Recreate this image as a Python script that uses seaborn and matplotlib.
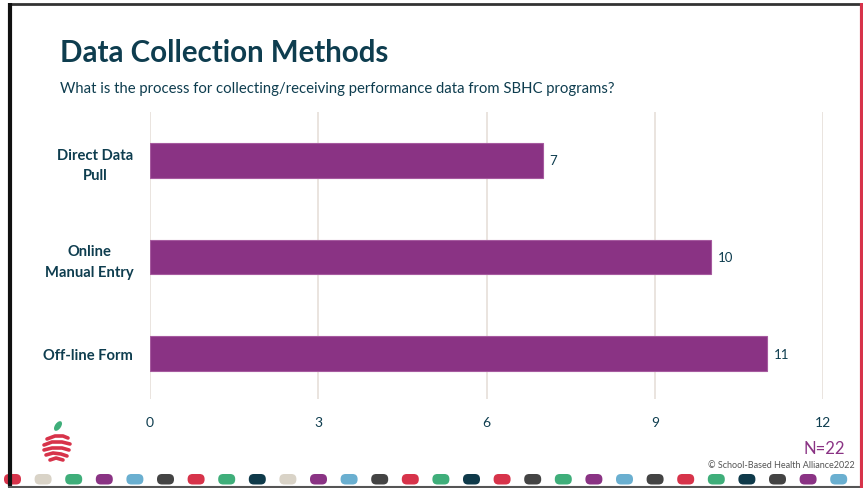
import matplotlib
matplotlib.use("Agg")
import matplotlib.pyplot as plt
import seaborn as sns
import pandas as pd
from matplotlib.patches import FancyBboxPatch, Ellipse

# ---- data ----
methods = ["Direct Data\nPull", "Online\nManual Entry", "Off-line Form"]
counts = [7, 10, 11]
x_ticks = [0, 3, 6, 9, 12]
title = "Data Collection Methods"
subtitle = "What is the process for collecting/receiving performance data from SBHC programs?"
sample_note = "N=22"
credit = "© School-Based Health Alliance2022"

TEAL = "#0e3d4f"
PURPLE = "#8a3384"
GRID = "#e8e2dc"
RED = "#d7334a"
BEIGE = "#d9d3c7"
GREEN = "#3fae7a"
BLUE = "#6aafd0"
GRAY = "#444444"
NAVY = "#0f3a4a"
dot_colors = [RED, BEIGE, GREEN, PURPLE, BLUE, GRAY, RED, GREEN, NAVY, BEIGE,
              PURPLE, BLUE, GRAY, RED, GREEN, NAVY, RED, GRAY, GREEN, PURPLE,
              BLUE, GRAY, RED, GREEN, NAVY, GRAY, PURPLE, BLUE]

sns.set_theme(style="white")
plt.rcParams["font.family"] = ["Lato", "DejaVu Sans"]

W, H = 863, 489
fig = plt.figure(figsize=(W / 100, H / 100), dpi=100)
fig.patch.set_facecolor("white")

# ---- bar chart ----
ax = fig.add_axes([150 / W, 1 - 400 / H, 673 / W, 287 / H])
df = pd.DataFrame({"method": methods, "count": counts})
sns.barplot(data=df, y="method", x="count", color=PURPLE, saturation=1,
            width=0.36, edgecolor="#a65a9f", linewidth=0.8, ax=ax)
ax.set_xlim(0, 12)
ax.set_ylim(2.47, -0.5)
ax.set_xticks(x_ticks)
ax.set_xticklabels([str(v) for v in x_ticks])
ax.set_xlabel("")
ax.set_ylabel("")
ax.xaxis.grid(True, color=GRID, linewidth=1.3)
ax.yaxis.grid(False)
ax.set_axisbelow(True)
for s in ax.spines.values():
    s.set_visible(False)
ax.set_facecolor("none")
ax.tick_params(axis="x", length=0, pad=12, labelsize=10, labelcolor=TEAL)
ax.tick_params(axis="y", length=0, pad=12, labelsize=10.6, labelcolor=TEAL)
for lbl in ax.get_yticklabels():
    lbl.set_fontweight("bold")
    lbl.set_multialignment("center")
    lbl.set_linespacing(1.6)
ax.bar_label(ax.containers[0], labels=[str(v) for v in counts], padding=5,
             color=TEAL, fontsize=9.5)

# ---- headings and notes ----
t_title = fig.text(60 / W, 1 - 53 / H, title, fontsize=22, fontweight="bold",
                   color=TEAL, va="center", ha="left")
t_sub = fig.text(60 / W, 1 - 89 / H, subtitle, fontsize=10, color=TEAL,
                 va="center", ha="left")
fig.text(845 / W, 1 - 449 / H, sample_note, fontsize=12, color=PURPLE,
         va="center", ha="right")
fig.text(855 / W, 1 - 466 / H, credit, fontsize=6.5, color="#555555",
         va="center", ha="right")


def fit_width(t, target):
    fig.canvas.draw()
    w = t.get_window_extent(fig.canvas.get_renderer()).width
    t.set_fontsize(t.get_fontsize() * target / w)


fit_width(t_title, 328)
fit_width(t_sub, 554)

# ---- decorations in pixel space ----
deco = fig.add_axes([0, 0, 1, 1], zorder=5)
deco.set_xlim(0, W)
deco.set_ylim(H, 0)
deco.axis("off")
deco.patch.set_alpha(0)

# row of pills
for i, c in enumerate(dot_colors):
    cx = 12.5 + 30.6 * i
    deco.add_patch(FancyBboxPatch((cx - 8.5, 475), 17, 10.5,
                                  boxstyle="round,pad=0,rounding_size=5",
                                  facecolor=c, edgecolor="none"))

# frame
deco.plot([8, 861], [5, 5], color="#333333", lw=2, solid_capstyle="butt")
deco.plot([9.5, 9.5], [4, 488], color="#111111", lw=3, solid_capstyle="butt")
deco.plot([8, 861], [487.8, 487.8], color="#555555", lw=1.5, solid_capstyle="butt")
deco.plot([861.5, 861.5], [4, 489], color=RED, lw=3, solid_capstyle="butt")

# apple logo
deco.add_patch(Ellipse((58, 427), 6, 11, angle=35, facecolor=GREEN, edgecolor="none"))
stripes = [
    ([47, 55, 63, 68], [440, 437, 437, 439]),
    ([44, 52, 62, 70], [446, 443, 443, 445]),
    ([44, 52, 62, 69], [451, 449, 449, 451]),
    ([46, 53, 61, 67], [456, 454, 455, 457]),
    ([50, 56, 63], [461, 459, 461]),
]
for xs, ys in stripes:
    deco.plot(xs, ys, color=RED, lw=2.6, solid_capstyle="round")

fig.savefig("out.png", dpi=100, facecolor="white")
